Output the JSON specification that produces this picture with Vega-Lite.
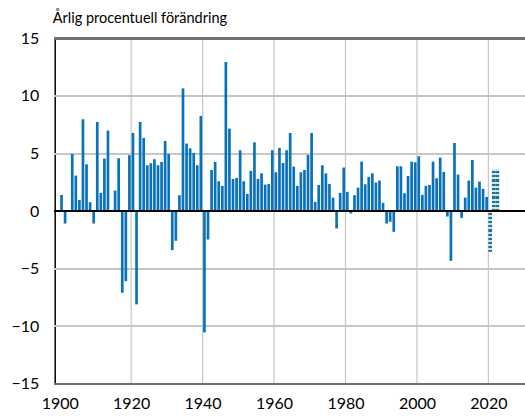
{
  "$schema": "https://vega.github.io/schema/vega-lite/v6.json",
  "width": 470.3,
  "height": 345.6,
  "autosize": {"type": "none"},
  "padding": {"left": 54.7, "top": 38.4, "right": 0, "bottom": 32.6},
  "background": "white",
  "title": {
    "text": "Årlig procentuell förändring",
    "anchor": "start",
    "frame": "group",
    "font": "Lato",
    "fontSize": 14.5,
    "fontWeight": "normal",
    "color": "black",
    "offset": 4,
    "dx": -2
  },
  "config": {
    "view": {"stroke": null},
    "axis": {
      "labelFont": "Lato",
      "labelFontSize": 16,
      "labelColor": "black",
      "tickSize": 0,
      "grid": false
    }
  },
  "data": {
    "values": [
      {"year": 1900, "value": 1.4, "typ": "utfall"},
      {"year": 1901, "value": -1.07, "typ": "utfall"},
      {"year": 1903, "value": 4.97, "typ": "utfall"},
      {"year": 1904, "value": 3.09, "typ": "utfall"},
      {"year": 1905, "value": 0.98, "typ": "utfall"},
      {"year": 1906, "value": 7.98, "typ": "utfall"},
      {"year": 1907, "value": 4.08, "typ": "utfall"},
      {"year": 1908, "value": 0.78, "typ": "utfall"},
      {"year": 1909, "value": -1.07, "typ": "utfall"},
      {"year": 1910, "value": 7.75, "typ": "utfall"},
      {"year": 1911, "value": 1.59, "typ": "utfall"},
      {"year": 1912, "value": 4.57, "typ": "utfall"},
      {"year": 1913, "value": 7.0, "typ": "utfall"},
      {"year": 1915, "value": 1.79, "typ": "utfall"},
      {"year": 1916, "value": 4.6, "typ": "utfall"},
      {"year": 1917, "value": -7.08, "typ": "utfall"},
      {"year": 1918, "value": -6.07, "typ": "utfall"},
      {"year": 1919, "value": 4.86, "typ": "utfall"},
      {"year": 1920, "value": 6.79, "typ": "utfall"},
      {"year": 1921, "value": -8.09, "typ": "utfall"},
      {"year": 1922, "value": 7.75, "typ": "utfall"},
      {"year": 1923, "value": 6.36, "typ": "utfall"},
      {"year": 1924, "value": 3.99, "typ": "utfall"},
      {"year": 1925, "value": 4.16, "typ": "utfall"},
      {"year": 1926, "value": 4.51, "typ": "utfall"},
      {"year": 1927, "value": 3.99, "typ": "utfall"},
      {"year": 1928, "value": 4.28, "typ": "utfall"},
      {"year": 1929, "value": 6.1, "typ": "utfall"},
      {"year": 1930, "value": 4.97, "typ": "utfall"},
      {"year": 1931, "value": -3.38, "typ": "utfall"},
      {"year": 1932, "value": -2.57, "typ": "utfall"},
      {"year": 1933, "value": 1.39, "typ": "utfall"},
      {"year": 1934, "value": 10.66, "typ": "utfall"},
      {"year": 1935, "value": 5.87, "typ": "utfall"},
      {"year": 1936, "value": 5.46, "typ": "utfall"},
      {"year": 1937, "value": 5.06, "typ": "utfall"},
      {"year": 1938, "value": 3.99, "typ": "utfall"},
      {"year": 1939, "value": 8.27, "typ": "utfall"},
      {"year": 1940, "value": -10.52, "typ": "utfall"},
      {"year": 1941, "value": -2.46, "typ": "utfall"},
      {"year": 1942, "value": 3.58, "typ": "utfall"},
      {"year": 1943, "value": 4.28, "typ": "utfall"},
      {"year": 1944, "value": 2.6, "typ": "utfall"},
      {"year": 1945, "value": 2.2, "typ": "utfall"},
      {"year": 1946, "value": 12.95, "typ": "utfall"},
      {"year": 1947, "value": 7.17, "typ": "utfall"},
      {"year": 1948, "value": 2.8, "typ": "utfall"},
      {"year": 1949, "value": 2.89, "typ": "utfall"},
      {"year": 1950, "value": 5.29, "typ": "utfall"},
      {"year": 1951, "value": 2.6, "typ": "utfall"},
      {"year": 1952, "value": 1.5, "typ": "utfall"},
      {"year": 1953, "value": 3.5, "typ": "utfall"},
      {"year": 1954, "value": 5.98, "typ": "utfall"},
      {"year": 1955, "value": 2.8, "typ": "utfall"},
      {"year": 1956, "value": 3.29, "typ": "utfall"},
      {"year": 1957, "value": 2.31, "typ": "utfall"},
      {"year": 1958, "value": 2.37, "typ": "utfall"},
      {"year": 1959, "value": 5.29, "typ": "utfall"},
      {"year": 1960, "value": 3.38, "typ": "utfall"},
      {"year": 1961, "value": 5.49, "typ": "utfall"},
      {"year": 1962, "value": 4.19, "typ": "utfall"},
      {"year": 1963, "value": 5.29, "typ": "utfall"},
      {"year": 1964, "value": 6.79, "typ": "utfall"},
      {"year": 1965, "value": 3.87, "typ": "utfall"},
      {"year": 1966, "value": 2.2, "typ": "utfall"},
      {"year": 1967, "value": 3.38, "typ": "utfall"},
      {"year": 1968, "value": 3.58, "typ": "utfall"},
      {"year": 1969, "value": 4.88, "typ": "utfall"},
      {"year": 1970, "value": 6.79, "typ": "utfall"},
      {"year": 1971, "value": 0.81, "typ": "utfall"},
      {"year": 1972, "value": 2.28, "typ": "utfall"},
      {"year": 1973, "value": 3.99, "typ": "utfall"},
      {"year": 1974, "value": 3.29, "typ": "utfall"},
      {"year": 1975, "value": 2.37, "typ": "utfall"},
      {"year": 1976, "value": 1.18, "typ": "utfall"},
      {"year": 1977, "value": -1.5, "typ": "utfall"},
      {"year": 1978, "value": 1.59, "typ": "utfall"},
      {"year": 1979, "value": 3.79, "typ": "utfall"},
      {"year": 1980, "value": 1.68, "typ": "utfall"},
      {"year": 1981, "value": -0.2, "typ": "utfall"},
      {"year": 1982, "value": 1.39, "typ": "utfall"},
      {"year": 1983, "value": 2.05, "typ": "utfall"},
      {"year": 1984, "value": 4.3, "typ": "utfall"},
      {"year": 1985, "value": 2.34, "typ": "utfall"},
      {"year": 1986, "value": 2.98, "typ": "utfall"},
      {"year": 1987, "value": 3.29, "typ": "utfall"},
      {"year": 1988, "value": 2.49, "typ": "utfall"},
      {"year": 1989, "value": 2.66, "typ": "utfall"},
      {"year": 1990, "value": 0.72, "typ": "utfall"},
      {"year": 1991, "value": -1.07, "typ": "utfall"},
      {"year": 1992, "value": -0.92, "typ": "utfall"},
      {"year": 1993, "value": -1.79, "typ": "utfall"},
      {"year": 1994, "value": 3.9, "typ": "utfall"},
      {"year": 1995, "value": 3.9, "typ": "utfall"},
      {"year": 1996, "value": 1.56, "typ": "utfall"},
      {"year": 1997, "value": 3.06, "typ": "utfall"},
      {"year": 1998, "value": 4.3, "typ": "utfall"},
      {"year": 1999, "value": 4.25, "typ": "utfall"},
      {"year": 2000, "value": 4.77, "typ": "utfall"},
      {"year": 2001, "value": 1.42, "typ": "utfall"},
      {"year": 2002, "value": 2.2, "typ": "utfall"},
      {"year": 2003, "value": 2.28, "typ": "utfall"},
      {"year": 2004, "value": 4.3, "typ": "utfall"},
      {"year": 2005, "value": 2.86, "typ": "utfall"},
      {"year": 2006, "value": 4.65, "typ": "utfall"},
      {"year": 2007, "value": 3.41, "typ": "utfall"},
      {"year": 2008, "value": -0.46, "typ": "utfall"},
      {"year": 2009, "value": -4.31, "typ": "utfall"},
      {"year": 2010, "value": 5.92, "typ": "utfall"},
      {"year": 2011, "value": 3.18, "typ": "utfall"},
      {"year": 2012, "value": -0.58, "typ": "utfall"},
      {"year": 2013, "value": 1.18, "typ": "utfall"},
      {"year": 2014, "value": 2.66, "typ": "utfall"},
      {"year": 2015, "value": 4.45, "typ": "utfall"},
      {"year": 2016, "value": 2.05, "typ": "utfall"},
      {"year": 2017, "value": 2.57, "typ": "utfall"},
      {"year": 2018, "value": 1.94, "typ": "utfall"},
      {"year": 2019, "value": 1.24, "typ": "utfall"},
      {"year": 2020, "value": -3.53, "typ": "prognos"},
      {"year": 2021, "value": 3.67, "typ": "prognos"},
      {"year": 2022, "value": 3.67, "typ": "prognos"}
    ]
  },
  "layer": [
    {
      "transform": [{"filter": "datum.year % 20 == 0 && datum.year > 1900"}],
      "mark": {"type": "rule", "color": "#c6c6c6", "strokeWidth": 1.2},
      "encoding": {
        "x": {
          "field": "year",
          "type": "quantitative",
          "scale": {"domain": [1900, 2028.85], "nice": false, "zero": false},
          "axis": {
            "values": [1900, 1920, 1940, 1960, 1980, 2000, 2020],
            "format": "d",
            "grid": false,
            "domain": false,
            "labelPadding": 12,
            "title": null
          }
        }
      }
    },
    {"mark": {"type": "rule", "color": "#c6c6c6", "strokeWidth": 1.2}, "encoding": {"y": {"datum": 10, "type": "quantitative"}}},
    {"mark": {"type": "rule", "color": "#c6c6c6", "strokeWidth": 1.2}, "encoding": {"y": {"datum": 5, "type": "quantitative"}}},
    {"mark": {"type": "rule", "color": "#c6c6c6", "strokeWidth": 1.2}, "encoding": {"y": {"datum": -5, "type": "quantitative"}}},
    {"mark": {"type": "rule", "color": "#c6c6c6", "strokeWidth": 1.2}, "encoding": {"y": {"datum": -10, "type": "quantitative"}}},
    {
      "transform": [{"filter": "datum.typ == 'utfall'"}],
      "mark": {"type": "bar", "orient": "vertical", "size": 2.7, "xOffset": 1.83, "color": "#0a72ba"},
      "encoding": {
        "x": {"field": "year", "type": "quantitative"},
        "y": {
          "field": "value",
          "type": "quantitative",
          "scale": {"domain": [-15, 15], "nice": false},
          "axis": {
            "values": [-15, -10, -5, 0, 5, 10, 15],
            "grid": false,
            "domain": true,
            "domainColor": "black",
            "domainWidth": 1.5,
            "labelPadding": 16,
            "title": null
          }
        }
      }
    },
    {
      "transform": [{"filter": "datum.typ == 'prognos'"}],
      "mark": {
        "type": "bar",
        "orient": "vertical",
        "size": 3.65,
        "xOffset": 1.83,
        "fill": {
          "gradient": "linear",
          "x1": 0, "y1": 0, "x2": 0, "y2": 1,
          "stops": [
            {"offset": 0.0, "color": "#b9eff0"}, {"offset": 0.05, "color": "#b9eff0"},
            {"offset": 0.05, "color": "#2f6b8e"}, {"offset": 0.1, "color": "#2f6b8e"},
            {"offset": 0.1, "color": "#b9eff0"}, {"offset": 0.15, "color": "#b9eff0"},
            {"offset": 0.15, "color": "#2f6b8e"}, {"offset": 0.2, "color": "#2f6b8e"},
            {"offset": 0.2, "color": "#b9eff0"}, {"offset": 0.25, "color": "#b9eff0"},
            {"offset": 0.25, "color": "#2f6b8e"}, {"offset": 0.3, "color": "#2f6b8e"},
            {"offset": 0.3, "color": "#b9eff0"}, {"offset": 0.35, "color": "#b9eff0"},
            {"offset": 0.35, "color": "#2f6b8e"}, {"offset": 0.4, "color": "#2f6b8e"},
            {"offset": 0.4, "color": "#b9eff0"}, {"offset": 0.45, "color": "#b9eff0"},
            {"offset": 0.45, "color": "#2f6b8e"}, {"offset": 0.5, "color": "#2f6b8e"},
            {"offset": 0.5, "color": "#b9eff0"}, {"offset": 0.55, "color": "#b9eff0"},
            {"offset": 0.55, "color": "#2f6b8e"}, {"offset": 0.6, "color": "#2f6b8e"},
            {"offset": 0.6, "color": "#b9eff0"}, {"offset": 0.65, "color": "#b9eff0"},
            {"offset": 0.65, "color": "#2f6b8e"}, {"offset": 0.7, "color": "#2f6b8e"},
            {"offset": 0.7, "color": "#b9eff0"}, {"offset": 0.75, "color": "#b9eff0"},
            {"offset": 0.75, "color": "#2f6b8e"}, {"offset": 0.8, "color": "#2f6b8e"},
            {"offset": 0.8, "color": "#b9eff0"}, {"offset": 0.85, "color": "#b9eff0"},
            {"offset": 0.85, "color": "#2f6b8e"}, {"offset": 0.9, "color": "#2f6b8e"},
            {"offset": 0.9, "color": "#b9eff0"}, {"offset": 0.95, "color": "#b9eff0"},
            {"offset": 0.95, "color": "#2f6b8e"}, {"offset": 1.0, "color": "#2f6b8e"}
          ]
        }
      },
      "encoding": {
        "x": {"field": "year", "type": "quantitative"},
        "y": {"field": "value", "type": "quantitative"}
      }
    },
    {"mark": {"type": "rule", "color": "black", "strokeWidth": 1.5}, "encoding": {"y": {"datum": 0, "type": "quantitative"}}},
    {"mark": {"type": "rule", "color": "#707070", "strokeWidth": 1.5}, "encoding": {"y": {"datum": 15, "type": "quantitative"}}},
    {"mark": {"type": "rule", "color": "#707070", "strokeWidth": 1.5}, "encoding": {"y": {"datum": -15, "type": "quantitative"}}}
  ]
}
